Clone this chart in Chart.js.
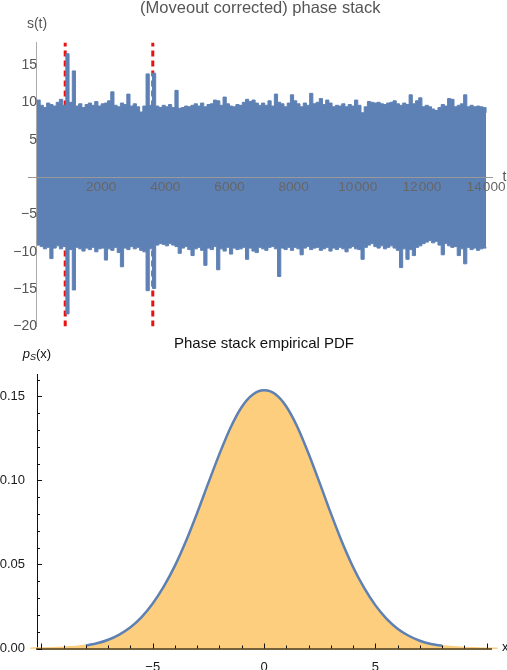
<!DOCTYPE html>
<html>
<head>
<meta charset="utf-8">
<script src="https://cdn.jsdelivr.net/npm/chart.js@4.4.1/dist/chart.umd.min.js"></script>
<style>
  html, body { margin: 0; padding: 0; background: #fff; }
  body { position: relative; width: 507px; height: 670px; overflow: hidden; }
  canvas { display: block; position: absolute; left: 0; }
  #stackChart { top: 0; }
  #pdfChart { top: 335px; }
</style>
</head>
<body>
<canvas id="stackChart" width="507" height="340"></canvas>
<canvas id="pdfChart" width="507" height="335"></canvas>
<script>
// top panel: envelope of the stacked trace, one max / min per 100 samples
const binWidth = 100;
const upper = [
  10.3, 9.6, 9.3, 9.9, 9.7, 9.5, 10.0, 10.4, 9.6, 16.5,
  10.0, 14.2, 9.5, 9.8, 9.3, 9.7, 9.9, 9.6, 10.1, 9.5,
  9.8, 9.9, 10.2, 11.4, 9.6, 9.4, 9.9, 9.7, 11.1, 9.5,
  9.8, 9.4, 8.7, 9.5, 13.8, 9.6, 13.9, 9.5, 9.3, 9.6,
  9.4, 9.7, 9.3, 11.6, 9.2, 9.3, 9.5, 9.4, 9.6, 9.8,
  9.5, 9.9, 9.4, 9.7, 9.8, 10.3, 10.2, 9.6, 10.7, 9.8,
  9.5, 9.4, 9.7, 9.6, 10.0, 10.4, 10.1, 10.3, 9.9, 9.6,
  9.9, 9.6, 10.2, 9.5, 11.1, 10.0, 9.8, 9.4, 9.9, 11.0,
  10.2, 9.8, 9.4, 9.9, 9.6, 11.2, 9.8, 10.0, 10.5, 9.7,
  10.3, 9.9, 9.4, 9.6, 9.5, 9.8, 9.4, 9.7, 9.5, 10.3,
  9.6, 8.6, 9.4, 10.1, 10.0, 9.9, 10.0, 9.8, 9.7, 9.9,
  10.0, 10.2, 9.8, 9.6, 9.9, 9.7, 11.0, 9.8, 10.2, 10.6,
  9.4, 9.6, 9.4, 9.1, 8.9, 9.3, 9.7, 9.5, 10.5, 10.4,
  9.4, 9.6, 9.8, 11.0, 9.4, 9.6, 9.4, 9.5, 9.4, 9.3,
  8.6
];
const lower = [
  -9.1, -9.3, -9.6, -9.4, -10.9, -9.5, -9.2, -9.6, -9.3, -18.3,
  -9.7, -15.1, -9.4, -9.6, -9.9, -9.5, -9.7, -9.4, -10.0, -9.6,
  -9.5, -11.1, -9.6, -9.8, -9.4, -10.1, -12.0, -9.5, -9.7, -9.3,
  -9.6, -9.4, -9.8, -10.0, -15.2, -9.6, -14.9, -9.1, -8.9, -9.0,
  -9.2, -8.9, -9.1, -9.3, -10.2, -9.5, -9.3, -9.7, -10.5, -9.6,
  -9.4, -9.8, -11.8, -9.5, -9.7, -9.3, -12.4, -9.6, -9.9, -9.4,
  -10.3, -9.5, -9.7, -9.6, -9.4, -11.0, -9.5, -9.9, -10.1, -9.4,
  -9.6, -9.8, -9.4, -9.3, -9.6, -13.3, -9.5, -9.7, -9.4, -9.8,
  -9.4, -9.6, -10.4, -9.5, -9.3, -9.7, -9.5, -9.4, -9.8, -9.6,
  -9.4, -9.9, -9.5, -9.7, -9.4, -9.6, -10.0, -9.5, -9.3, -9.6,
  -9.7, -11.0, -9.4, -9.1, -8.9, -9.3, -9.5, -9.2, -9.6, -9.4,
  -9.2, -9.5, -9.8, -12.1, -9.6, -11.0, -9.7, -10.5, -9.4, -9.2,
  -8.9, -8.7, -8.5, -8.8, -8.6, -9.1, -10.4, -8.9, -9.2, -9.4,
  -9.3, -10.5, -9.6, -11.6, -9.4, -9.7, -9.5, -9.8, -9.6, -9.5,
  -9.4
];
const eventTimes = [880, 3610];   // red dashed markers
const stackRange = [-20, 18];
const timeTicks = [2000, 4000, 6000, 8000, 10000, 12000, 14000];

// bottom panel: empirical pdf
const pdfX = [-8, -7.5, -7, -6.5, -6, -5.5, -5, -4.5, -4, -3.5, -3, -2.5, -2, -1.5, -1, -0.5,
  0, 0.5, 1, 1.5, 2, 2.5, 3, 3.5, 4, 4.5, 5, 5.5, 6, 6.5, 7, 7.5, 8];
const pdfCurve = [0.0018, 0.0031, 0.0052, 0.0083, 0.0126, 0.0187, 0.0268, 0.0370, 0.0493, 0.0641,
  0.0808, 0.0985, 0.1158, 0.1315, 0.1437, 0.1511, 0.1536, 0.1514, 0.1440, 0.1318, 0.1160,
  0.0985, 0.0805, 0.0635, 0.0485, 0.0360, 0.0258, 0.0178, 0.0118, 0.0076, 0.0046, 0.0027, 0.0016];
const histX = [-12, -11.5, -11, -10.5, -10, -9.5, -9, -8.5, -8, -7.5, -7, -6.5, -6, -5.5, -5, -4.5,
  -4, -3.5, -3, -2.5, -2, -1.5, -1, -0.5, 0, 0.5, 1, 1.5, 2, 2.5, 3, 3.5, 4, 4.5, 5, 5.5, 6, 6.5,
  7, 7.5, 8, 8.5, 9, 9.5, 10, 10.5, 11];
const histValues = [0, 0.0001, 0.0001, 0.0002, 0.0003, 0.0005, 0.0008, 0.0012, 0.0019, 0.0032,
  0.0053, 0.0084, 0.0128, 0.0189, 0.0270, 0.0372, 0.0496, 0.0644, 0.0811, 0.0988, 0.1161,
  0.1318, 0.1440, 0.1514, 0.1540, 0.1517, 0.1443, 0.1321, 0.1163, 0.0988, 0.0808, 0.0638,
  0.0489, 0.0363, 0.0261, 0.0180, 0.0120, 0.0077, 0.0047, 0.0028, 0.0017, 0.0010, 0.0006,
  0.0004, 0.0002, 0.0001, 0.0001];

const blue = '#5E81B5';
const orange = 'rgb(252, 206, 126)';
const red = 'rgb(232, 18, 18)';
const fontFamily = 'Liberation Sans, Arial, Helvetica, sans-serif';
Chart.defaults.font.family = fontFamily;
Chart.defaults.animation = false;

function toPoints(xs, ys) {
  return xs.map((x, i) => ({ x: x, y: ys[i] }));
}
function isMultiple(v, step) {
  return Math.abs(v / step - Math.round(v / step)) < 1e-6;
}
function fmtThousands(v) {
  let s = String(v);
  if (s.length > 4) s = s.replace(/\B(?=(\d{3})+(?!\d))/g, '\u200A');
  return s;
}

// ---------- top chart ----------
const times = upper.map((v, i) => i * binWidth);

// axis names + time tick labels, drawn on top of the trace
const stackLabels = {
  id: 'stackLabels',
  afterDraw(chart) {
    const ctx = chart.ctx;
    const area = chart.chartArea;
    const xs = chart.scales.x, ys = chart.scales.y;
    const y0 = ys.getPixelForValue(0);
    ctx.save();
    ctx.fillStyle = '#666';
    ctx.font = '13.6px ' + fontFamily;
    ctx.textAlign = 'center';
    ctx.textBaseline = 'middle';
    timeTicks.forEach(v => {
      ctx.fillText(fmtThousands(v), xs.getPixelForValue(v), y0 + 10.5);
    });
    ctx.fillStyle = '#555';
    ctx.font = '14px ' + fontFamily;
    ctx.fillText('s(t)', xs.getPixelForValue(0), area.top - 18);
    ctx.textAlign = 'left';
    ctx.fillText('t', area.right + 10, y0);
    ctx.restore();
  }
};

new Chart(document.getElementById('stackChart'), {
  type: 'line',
  data: {
    datasets: [
      {
        data: toPoints(times, upper),
        borderColor: blue,
        backgroundColor: blue,
        borderWidth: 1,
        pointRadius: 0,
        stepped: true,
        fill: '+1'
      },
      {
        data: toPoints(times, lower),
        borderColor: blue,
        borderWidth: 1,
        pointRadius: 0,
        stepped: true,
        fill: false
      },
      ...eventTimes.map(t => ({
        data: [{ x: t, y: stackRange[0] }, { x: t, y: stackRange[1] }],
        borderColor: red,
        borderWidth: 3,
        borderDash: [6, 4],
        pointRadius: 0,
        fill: false
      }))
    ]
  },
  options: {
    responsive: false,
    devicePixelRatio: 1,
    layout: { padding: { left: 28, right: 14.5, top: 0, bottom: 0 } },
    plugins: {
      legend: { display: false },
      tooltip: { enabled: false },
      title: {
        display: true,
        text: '(Moveout corrected) phase stack',
        color: '#555',
        font: { size: 16.5, weight: 'normal', lineHeight: 1 },
        padding: { top: 0, bottom: 26 }
      }
    },
    scales: {
      x: {
        type: 'linear',
        min: -280,
        max: 14200,
        position: { y: 0 },
        grid: { display: false },
        border: { color: '#999', width: 1, z: 1 },
        afterBuildTicks: s => { s.ticks = timeTicks.map(v => ({ value: v })); },
        ticks: {
          maxRotation: 0,
          autoSkip: false,
          callback: () => ''
        }
      },
      y: {
        min: stackRange[0],
        max: stackRange[1],
        position: { x: 0 },
        grid: { display: false },
        border: { color: '#aaa', width: 1 },
        ticks: {
          stepSize: 5,
          color: '#555',
          font: { size: 14 },
          padding: 5,
          callback: v => (v === 0 || !isMultiple(v, 5)) ? '' : (v < 0 ? '\u2212' + Math.abs(v) : String(v))
        }
      }
    }
  },
  plugins: [stackLabels]
});

// ---------- bottom chart ----------
const pdfDecor = {
  id: 'pdfDecor',
  afterDraw(chart) {
    const ctx = chart.ctx;
    const area = chart.chartArea;
    const xs = chart.scales.x, ys = chart.scales.y;
    ctx.save();
    ctx.strokeStyle = '#111';
    ctx.lineWidth = 1;
    ctx.beginPath();
    // tick marks drawn inward, minor every 0.01 / 1, major every 0.05 / 5
    for (let k = 0; k <= 16; k++) {
      const py = Math.round(ys.getPixelForValue(k / 100)) + 0.5;
      const len = k % 5 === 0 ? 5 : 3;
      ctx.moveTo(area.left, py);
      ctx.lineTo(area.left + len, py);
    }
    for (let k = -10; k <= 10; k++) {
      const px = Math.round(xs.getPixelForValue(k)) + 0.5;
      const len = k % 5 === 0 ? 5 : 3;
      ctx.moveTo(px, area.bottom);
      ctx.lineTo(px, area.bottom - len);
    }
    ctx.stroke();

    ctx.fillStyle = '#111';
    ctx.textBaseline = 'middle';
    // p_S(x) label
    const cx = area.left, cy = area.top - 20;
    ctx.font = 'italic 13px ' + fontFamily;
    const wp = ctx.measureText('p').width;
    ctx.font = 'italic 9px ' + fontFamily;
    const ws = ctx.measureText('S').width;
    ctx.font = '13px ' + fontFamily;
    const wx = ctx.measureText('(x)').width;
    let px = cx - (wp + ws + wx) / 2;
    ctx.textAlign = 'left';
    ctx.font = 'italic 13px ' + fontFamily;
    ctx.fillText('p', px, cy);
    px += wp;
    ctx.font = 'italic 9px ' + fontFamily;
    ctx.fillText('S', px, cy + 3);
    px += ws;
    ctx.font = '13px ' + fontFamily;
    ctx.fillText('(x)', px, cy);
    ctx.fillText('x', area.right + 11, area.bottom - 1);
    ctx.restore();
  }
};

new Chart(document.getElementById('pdfChart'), {
  type: 'line',
  data: {
    datasets: [
      {
        data: toPoints(pdfX, pdfCurve),
        borderColor: blue,
        borderWidth: 2.5,
        pointRadius: 0,
        cubicInterpolationMode: 'monotone',
        fill: false
      },
      {
        data: toPoints(histX, histValues),
        borderColor: orange,
        backgroundColor: orange,
        borderWidth: 1.5,
        pointRadius: 0,
        cubicInterpolationMode: 'monotone',
        fill: 'origin',
        clip: false
      }
    ]
  },
  options: {
    responsive: false,
    devicePixelRatio: 1,
    layout: { padding: { left: 0, right: 16, top: 1, bottom: 0 } },
    plugins: {
      legend: { display: false },
      tooltip: { enabled: false },
      title: {
        display: true,
        fullSize: false,
        text: 'Phase stack empirical PDF',
        color: '#111',
        font: { size: 15, weight: 'normal', lineHeight: 1 },
        padding: { top: 0, bottom: 23.5 }
      }
    },
    scales: {
      x: {
        type: 'linear',
        min: -10.2,
        max: 10.2,
        grid: { display: false },
        border: { color: 'rgb(118, 98, 58)', width: 2, z: 1 },
        afterFit: s => { s.height = 21.5; },
        ticks: {
          stepSize: 5,
          color: '#1a1a1a',
          font: { size: 13 },
          padding: 3,
          maxRotation: 0,
          callback: v => (!isMultiple(v, 5) || v <= -10) ? '' : (v < 0 ? '\u2212' + Math.abs(v) : String(v))
        }
      },
      y: {
        min: 0,
        max: 0.163,
        grid: { display: false },
        border: { color: '#111', width: 1 },
        afterFit: s => { s.width = 37; },
        ticks: {
          stepSize: 0.05,
          color: '#1a1a1a',
          font: { size: 13 },
          padding: 4,
          callback: v => isMultiple(v, 0.05) ? v.toFixed(2) : ''
        }
      }
    }
  },
  plugins: [pdfDecor]
});
</script>
</body>
</html>
